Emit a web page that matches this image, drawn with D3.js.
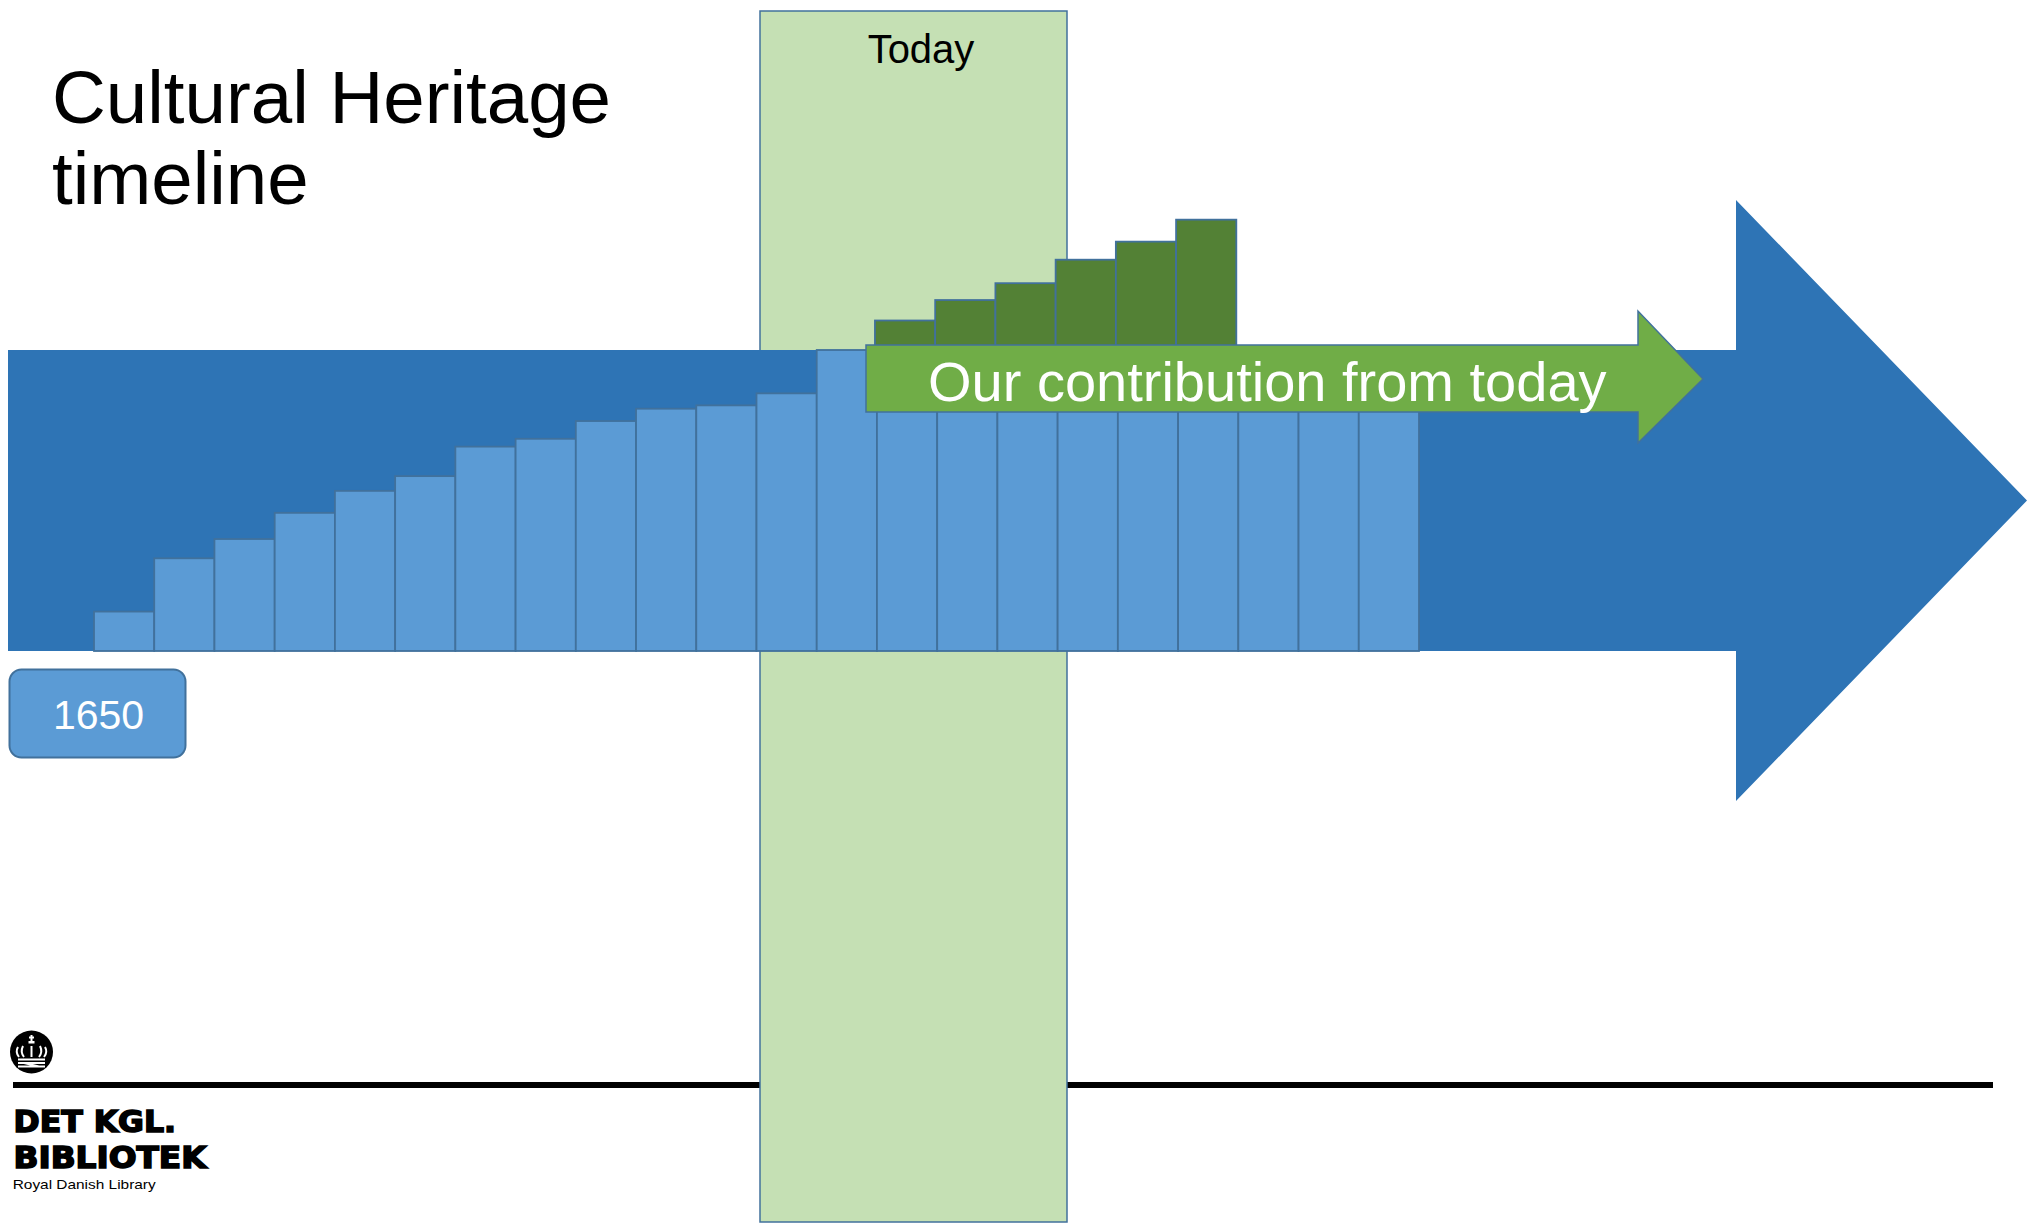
<!DOCTYPE html>
<html>
<head>
<meta charset="utf-8">
<script src="https://cdn.jsdelivr.net/npm/d3@7"></script>
<style>
  html, body { margin: 0; padding: 0; background: #ffffff; }
  svg { display: block; }
</style>
</head>
<body>
<svg id="chart" width="2027" height="1224"></svg>
<script>
// ---------- data ----------
const periods = ["P01","P02","P03","P04","P05","P06","P07","P08","P09","P10","P11",
                 "P12","P13","P14","P15","P16","P17","P18","P19","P20","P21","P22"];
const heritageValues = [13.1, 30.8, 37.2, 45.9, 53.2, 58.1, 67.9, 70.5, 76.4, 80.5, 81.6,
                        85.6, 100, 100, 100, 100, 100, 100, 100, 100, 100, 100];
const contributionPeriods = ["P14","P15","P16","P17","P18","P19"];
const contributionValues = [9.8, 16.6, 22.2, 30.0, 36.0, 43.3];
const titleLines = ["Cultural Heritage", "timeline"];
const startLabel = "1650";
const todayLabel = "Today";
const contributionLabel = "Our contribution from today";
const logoLines = ["DET KGL.", "BIBLIOTEK"];
const logoSub = "Royal Danish Library";

// ---------- styles ----------
const C = {
  band: "#2E74B5",
  bar: "#5B9BD5",
  barStroke: "#41719C",
  green: "#538135",
  greenArrow: "#70AD47",
  today: "#C5E0B4"
};

const svg = d3.select("#chart");
const x = d3.scaleBand().domain(periods).range([94, 1419]).padding(0);
const y = d3.scaleLinear().domain([0, 100]).range([651, 350]);

// black rule line (behind "today" box)
svg.append("rect").attr("x", 13).attr("y", 1082).attr("width", 1980).attr("height", 6).attr("fill", "#000");

// Today column
svg.append("rect").attr("x", 760).attr("y", 11).attr("width", 307).attr("height", 1211)
  .attr("fill", C.today).attr("stroke", C.barStroke).attr("stroke-width", 1.5);
svg.append("text").attr("x", 921).attr("y", 63).attr("text-anchor", "middle")
  .attr("font-family", "Liberation Sans, Arial, sans-serif").attr("font-size", 40)
  .attr("fill", "#000").text(todayLabel);

// Big timeline arrow
const bt = y(100), bb = y(0);
const bigArrow = d3.path();
bigArrow.moveTo(8, bt); bigArrow.lineTo(1736, bt); bigArrow.lineTo(1736, 200);
bigArrow.lineTo(2027, (bt + bb) / 2); bigArrow.lineTo(1736, 801);
bigArrow.lineTo(1736, bb); bigArrow.lineTo(8, bb); bigArrow.closePath();
svg.append("path").attr("d", bigArrow.toString()).attr("fill", C.band);

// Heritage bars
svg.append("g").selectAll("rect").data(periods).join("rect")
  .attr("x", d => x(d)).attr("width", x.bandwidth())
  .attr("y", (d, i) => y(heritageValues[i]))
  .attr("height", (d, i) => y(0) - y(heritageValues[i]))
  .attr("fill", C.bar).attr("stroke", C.barStroke).attr("stroke-width", 1.8);

// Contribution bars (stacked on top)
svg.append("g").selectAll("rect").data(contributionPeriods).join("rect")
  .attr("x", d => x(d) - 2).attr("width", x.bandwidth())
  .attr("y", (d, i) => y(100 + contributionValues[i]))
  .attr("height", (d, i) => y(100) - y(100 + contributionValues[i]))
  .attr("fill", C.green).attr("stroke", C.barStroke).attr("stroke-width", 1.8);

// Green arrow
const ga = d3.path();
ga.moveTo(866, 345); ga.lineTo(1638, 345); ga.lineTo(1638, 311); ga.lineTo(1703, 379);
ga.lineTo(1638, 443); ga.lineTo(1638, 412); ga.lineTo(866, 412); ga.closePath();
svg.append("path").attr("d", ga.toString()).attr("fill", C.greenArrow)
  .attr("stroke", C.barStroke).attr("stroke-width", 1.5);
svg.append("text").attr("x", 928).attr("y", 401)
  .attr("font-family", "Liberation Sans, Arial, sans-serif").attr("font-size", 56)
  .attr("fill", "#fff").text(contributionLabel);

// Title
svg.append("g").selectAll("text").data(titleLines).join("text")
  .attr("x", 52).attr("y", (d, i) => 123 + i * 81)
  .attr("font-family", "Liberation Sans, Arial, sans-serif").attr("font-size", 74.5)
  .attr("fill", "#000").text(d => d);

// 1650 label box
svg.append("rect").attr("x", 9.5).attr("y", 669.5).attr("width", 176).attr("height", 88)
  .attr("rx", 12).attr("fill", C.bar).attr("stroke", C.barStroke).attr("stroke-width", 2);
svg.append("text").attr("x", 98.5).attr("y", 729).attr("text-anchor", "middle")
  .attr("font-family", "Liberation Sans, Arial, sans-serif").attr("font-size", 41)
  .attr("fill", "#fff").text(startLabel);

// Logo
const lg = svg.append("g");
lg.append("circle").attr("cx", 31.5).attr("cy", 1052).attr("r", 21.5).attr("fill", "#000");
const cw = lg.append("g").attr("stroke", "#fff").attr("fill", "none").attr("stroke-width", 2);
cw.append("line").attr("x1", 31.5).attr("y1", 1035).attr("x2", 31.5).attr("y2", 1042);
cw.append("line").attr("x1", 29).attr("y1", 1037.5).attr("x2", 34).attr("y2", 1037.5);
lg.append("rect").attr("x", 28.5).attr("y", 1041).attr("width", 6).attr("height", 2.5).attr("fill", "#fff");
cw.append("path").attr("d", "M18,1047 Q15,1052 19,1057");
cw.append("path").attr("d", "M23,1046 Q20,1052 24,1057");
cw.append("line").attr("x1", 31.5).attr("y1", 1046).attr("x2", 31.5).attr("y2", 1057);
cw.append("path").attr("d", "M40,1046 Q43,1052 39,1057");
cw.append("path").attr("d", "M45,1047 Q48,1052 44,1057");
cw.append("line").attr("x1", 18).attr("y1", 1059.5).attr("x2", 45).attr("y2", 1059.5);
cw.append("path").attr("d", "M18,1063 L45,1063 M18,1066.5 L45,1066.5 M24,1063 L39,1066.5");

const logoWidths = [164, 194.6];
lg.selectAll("text.logo").data(logoLines).join("text").attr("class", "logo")
  .attr("x", 13.5).attr("y", (d, i) => 1131.5 + i * 36.8)
  .attr("font-family", "DejaVu Sans Condensed, DejaVu Sans, sans-serif")
  .attr("font-weight", "bold").attr("font-size", 31)
  .attr("textLength", (d, i) => logoWidths[i] - 1.5).attr("lengthAdjust", "spacingAndGlyphs")
  .attr("fill", "#000").attr("stroke", "#000").attr("stroke-width", 1.5)
  .text(d => d);
lg.append("text").attr("x", 12.7).attr("y", 1189).attr("font-family", "Liberation Sans, sans-serif")
  .attr("font-size", 13).attr("textLength", 143).attr("lengthAdjust", "spacingAndGlyphs")
  .attr("fill", "#000").text(logoSub);
</script>
</body>
</html>
